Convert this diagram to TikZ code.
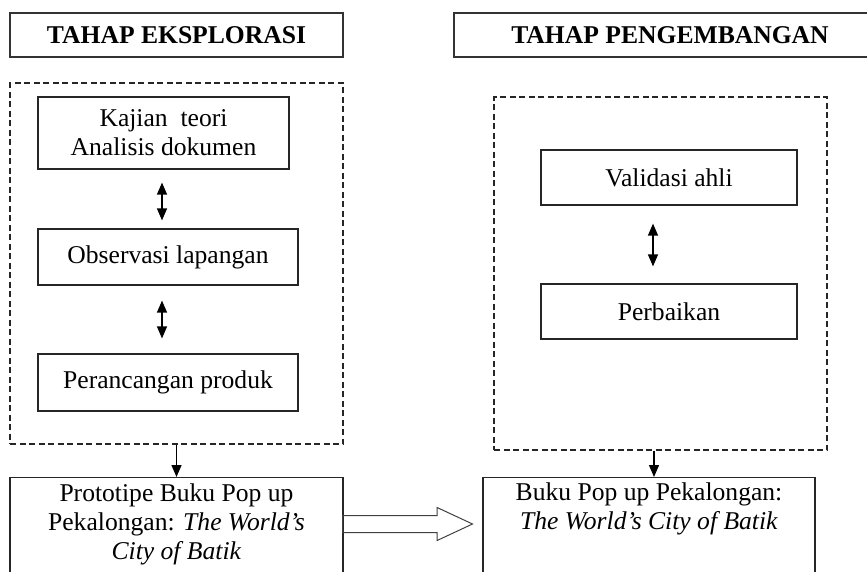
\documentclass[tikz,border=0pt]{standalone}
\usepackage{fontspec}
\setmainfont{Liberation Serif}
\usetikzlibrary{arrows.meta}
\usetikzlibrary{shapes.arrows}
\newcommand{\ukuran}{\fontsize{25.6}{29}\selectfont}
\tikzset{
  judul/.style={draw=black!80, line width=1.2pt, minimum width=333pt, minimum height=44pt, font=\ukuran\bfseries},
  kotak/.style={draw=black!85, line width=1.2pt, inner sep=0pt, align=center, font=\ukuran},
  teks/.style={inner sep=0pt, align=center, font=\ukuran, anchor=north},
  grup/.style={draw=black!85, line width=1.5pt, dash pattern=on 6pt off 3.5pt, minimum width=333pt},
  panah/.style={line width=1.3pt, -{Triangle[width=10pt,length=12pt]}},
  duapanah/.style={line width=1.3pt, {Triangle[width=10pt,length=12pt]}-{Triangle[width=10pt,length=12pt]}},
}

\begin{document}
\begin{tikzpicture}[x=1pt, y=-1pt]
\useasboundingbox (0,0) rectangle (867,571);
\clip (0,0) rectangle (867,571);
% judul
\node[judul] (judulkiri) at (176.5,35) {TAHAP EKSPLORASI};
\node[judul, minimum width=432pt] (judulkanan) at (670,35) {TAHAP PENGEMBANGAN};
% tahap eksplorasi
\node[grup, minimum height=361pt] (grupkiri) at (176.5,263.5) {};
\node[kotak, minimum width=251pt, minimum height=72pt] (kajian) at (163.5,133) {Kajian\ \ teori\\Analisis dokumen};
\node[kotak, minimum width=260pt, minimum height=56pt] (observasi) at (168,257) {Observasi lapangan};
\node[kotak, minimum width=260pt, minimum height=57pt] (rancang) at (168,382.5) {Perancangan produk};
\draw[duapanah, shorten <=13pt, shorten >=8pt] ([xshift=-1.5pt]kajian.south) -- ([xshift=-1.5pt]kajian.south |- observasi.north);
\draw[duapanah, shorten <=15pt, shorten >=15pt] ([xshift=-6pt]observasi.south) -- ([xshift=-6pt]observasi.south |- rancang.north);
% tahap pengembangan
\node[grup, minimum height=353pt] (grupkanan) at (660.5,273.5) {};
\node[kotak, minimum width=256pt, minimum height=55pt] (validasi) at (669,177.5) {Validasi ahli};
\node[kotak, minimum width=256pt, minimum height=55pt] (perbaikan) at (669,311.5) {Perbaikan};
\draw[duapanah, shorten <=18pt, shorten >=17pt] ([xshift=-16pt]validasi.south) -- ([xshift=-16pt]validasi.south |- perbaikan.north);
% produk
\node[kotak, minimum width=333pt, minimum height=120pt, anchor=north] (proto) at (176.5,477) {};
\node[teks] (prototeks) at (176.5,484) {Prototipe Buku Pop up\\Pekalongan: \textit{The World's}\\\textit{City of Batik}};
\node[kotak, minimum width=332pt, minimum height=120pt, anchor=north] (buku) at (649,477) {};
\node[teks] (bukuteks) at (649,483) {Buku Pop up Pekalongan:\\\textit{The World's City of Batik}};
\draw[panah] (grupkiri.south) -- (proto.north);
\draw[panah] ([xshift=-6.5pt]grupkanan.south) -- ([xshift=-6.5pt]grupkanan.south |- buku.north);
\node[single arrow, draw=black!75, line width=1pt, minimum height=130pt, inner xsep=0pt, inner ysep=8pt,
  single arrow head extend=8pt, single arrow tip angle=50, anchor=tail] (lanjut) at (342,524) {};
\end{tikzpicture}
\end{document}
